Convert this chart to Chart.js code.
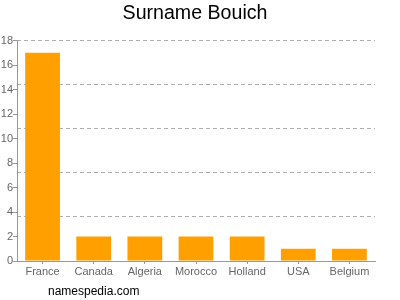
<!DOCTYPE html>
<html><head><meta charset="utf-8">
<script src="https://cdn.jsdelivr.net/npm/chart.js@4/dist/chart.umd.min.js"></script>
<style>html,body{margin:0;padding:0;background:#fff}#wrap{width:400px;height:300px}</style>
</head><body><div id="wrap"><canvas id="c" width="400" height="300"></canvas></div>
<script>
const categories = ["France","Canada","Algeria","Morocco","Holland","USA","Belgium"];
const counts = [17,2,2,2,2,1,1];
const tickValues = [0,2,4,6,8,10,12,14,16,18];
const gridValues = [0,3.6,7.2,10.8,14.4,18];
const titleText = "Surname Bouich";
const footerText = "namespedia.com";

const footerPlugin = {
  id: 'footer',
  afterDraw(chart) {
    const ctx = chart.ctx;
    ctx.save();
    ctx.font = '12px "Liberation Sans", Arial, sans-serif';
    ctx.fillStyle = '#000';
    ctx.textBaseline = 'middle';
    ctx.textAlign = 'left';
    ctx.fillText(footerText, 48, 292);
    ctx.restore();
  }
};

new Chart(document.getElementById('c'), {
  type: 'bar',
  data: { labels: categories, datasets: [{ data: counts, backgroundColor: '#FFA000', categoryPercentage: 0.68, barPercentage: 1.0 }] },
  options: {
    responsive: false, animation: false,
    layout: { padding: { left: 0, right: 10, top: 0, bottom: 19 } },
    plugins: {
      legend: { display: false }, tooltip: { enabled: false },
      title: { display: true, text: titleText, color: '#000',
        font: { size: 19.6, family: '"Liberation Sans", Arial, sans-serif', weight: 'normal' },
        padding: { top: 2, bottom: 15 } }
    },
    scales: {
      x: {
        grid: { drawOnChartArea: false, offset: false, tickLength: 3, color: '#999' },
        border: { color: '#999' },
        ticks: { color: '#666', padding: 1, font: { size: 11, family: '"Liberation Sans", Arial, sans-serif' } },
        afterFit(s) { s.height = 20; }
      },
      y: {
        min: 0, max: 18,
        afterBuildTicks(s) { s.ticks = tickValues.map(v => ({ value: v })); },
        grid: { drawOnChartArea: false, tickLength: 4, color: '#999' },
        border: { color: '#999' },
        ticks: { color: '#666', padding: 0, font: { size: 11, family: '"Liberation Sans", Arial, sans-serif' } },
        afterFit(s) { s.width = 17; }
      },
      yg: {
        position: 'right', min: 0, max: 18, display: true,
        afterBuildTicks(s) { s.ticks = gridValues.map(v => ({ value: v })); },
        ticks: { display: false },
        border: { display: false, dash: [4, 3] },
        grid: { color: '#b0b0b0', drawTicks: false, tickLength: 0 },
        afterFit(s) { s.width = 15; }
      }
    }
  },
  plugins: [footerPlugin]
});
</script></body></html>
